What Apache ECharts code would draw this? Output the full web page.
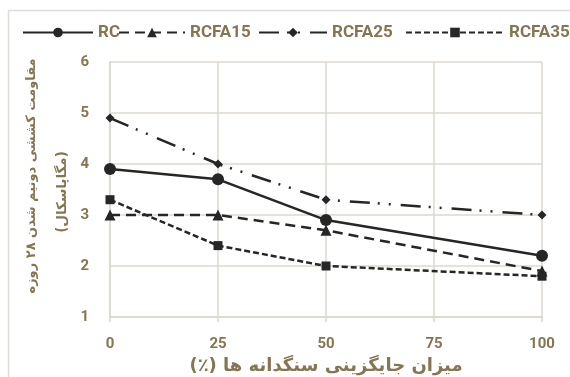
<!DOCTYPE html>
<html>
<head>
<meta charset="utf-8">
<script src="https://cdn.jsdelivr.net/npm/echarts@6/dist/echarts.min.js"></script>
<style>html,body{margin:0;padding:0;background:#fff;}#c{width:570px;height:377px;}</style>
</head>
<body>
<div id="c"></div>
<script>
const xValues = [0, 25, 50, 100];
const xTicks = [0, 25, 50, 75, 100];
const seriesNames = ['RC', 'RCFA15', 'RCFA25', 'RCFA35'];
const rc = [3.9, 3.7, 2.9, 2.2];
const rcfa15 = [3.0, 3.0, 2.7, 1.9];
const rcfa25 = [4.9, 4.0, 3.3, 3.0];
const rcfa35 = [3.3, 2.4, 2.0, 1.8];
const yTitle1 = 'مقاومت کششی دونیم شدن ۲۸ روزه';
const yTitle2 = '(مگاپاسکال)';
const xTitle = 'میزان جایگزینی سنگدانه ها (٪)';

const RLM = '\u200F';
const TXT = '#857552';
const GRID = '#dcd8cd';
const LINE = '#262626';
const pairs = v => xValues.map((x, i) => [x, v[i]]);

const seriesVals = [rc, rcfa15, rcfa25, rcfa35];
const symbols = ['circle', 'triangle', 'diamond', 'rect'];
const symSizes = [12, 11, 9, 9];
const dashes = ['solid', [10, 6], [20, 8, 2, 9, 2, 10], [6, 3]];

const chart = echarts.init(document.getElementById('c'));
const legendPos = [22, 118, 258, 405];
const legendW = [70, 66, 68, 98];
chart.setOption({
  backgroundColor: '#fff',
  animation: false,
  graphic: [
    { type: 'rect', shape: { x: 8.5, y: 10.5, width: 700, height: 500 }, style: { fill: 'none', stroke: '#dedcd6', lineWidth: 1.5 }, silent: true },
    { type: 'text', x: 32, y: 176, rotation: Math.PI / 2, style: { text: RLM + yTitle1 + RLM, fill: TXT, font: 'bold 13px "DejaVu Sans"', align: 'center', verticalAlign: 'middle' } },
    { type: 'text', x: 62, y: 192, rotation: Math.PI / 2, style: { text: RLM + yTitle2 + RLM, fill: TXT, font: 'bold 13.5px "DejaVu Sans"', align: 'center', verticalAlign: 'middle' } }
  ],
  legend: seriesNames.map((n, i) => ({
    data: [n], left: legendPos[i], top: 24, padding: 0, itemWidth: legendW[i], itemHeight: 12, itemGap: 0,
    textStyle: { color: TXT, fontFamily: 'Roboto', fontWeight: 'bold', fontSize: 17 }
  })),
  grid: { left: 110, right: 28, top: 62, bottom: 60, containLabel: false, outerBoundsMode: 'none' },
  xAxis: {
    type: 'value', min: 0, max: 100, interval: 25,
    name: RLM + xTitle + RLM, nameLocation: 'middle', nameGap: 32,
    nameTextStyle: { color: TXT, fontFamily: 'DejaVu Sans', fontWeight: 'bold', fontSize: 18 },
    axisLine: { show: true, lineStyle: { color: GRID, width: 1.5 } },
    axisTick: { show: true, length: 5, lineStyle: { color: GRID, width: 1.5 } },
    axisLabel: { color: TXT, fontFamily: 'Roboto', fontWeight: 'bold', fontSize: 15, margin: 20,
      formatter: v => xTicks.includes(v) ? String(v) : '' },
    splitLine: { show: true, lineStyle: { color: GRID, width: 1.5 } }
  },
  yAxis: {
    type: 'value', min: 1, max: 6, interval: 1,
    axisLine: { show: true, lineStyle: { color: GRID, width: 1.5 } },
    axisTick: { show: false },
    axisLabel: { color: TXT, fontFamily: 'Roboto', fontWeight: 'bold', fontSize: 15, margin: 21 },
    splitLine: { show: true, lineStyle: { color: GRID, width: 1.5 } }
  },
  series: seriesNames.map((n, i) => ({
    name: n, type: 'line', data: pairs(seriesVals[i]),
    symbol: symbols[i], symbolSize: symSizes[i], showAllSymbol: true,
    itemStyle: { color: LINE },
    lineStyle: { color: LINE, width: 2.5, type: dashes[i] }
  }))
});
</script>
</body>
</html>
